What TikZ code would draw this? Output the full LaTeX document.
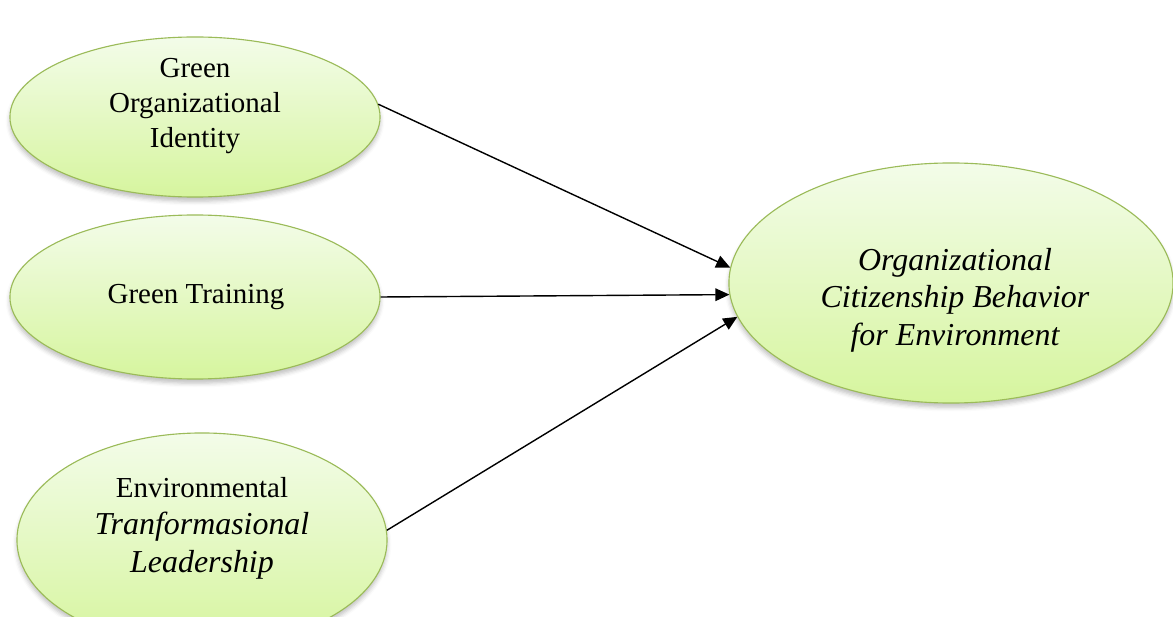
\documentclass[tikz,border=0pt]{standalone}
\usepackage{fontspec}
\setmainfont{Liberation Serif}
\usetikzlibrary{positioning,shapes.geometric,arrows.meta,shadows.blur}

\definecolor{rimgreen}{HTML}{9BBB59}
\definecolor{filltop}{HTML}{F3FCE9}
\definecolor{fillbot}{HTML}{D6F59E}

% italic lines are set a little larger
\newcommand{\itline}[1]{{\fontsize{22.7}{26.7}\selectfont\itshape #1}}

\begin{document}
\begin{tikzpicture}[
    x=0.025cm, y=-0.025cm,
    construct/.style={ellipse, draw=rimgreen, line width=0.8pt, top color=filltop, bottom color=fillbot,
        blur shadow={shadow xshift=0pt, shadow yshift=-3pt, shadow blur radius=3pt, shadow opacity=25}},
    lbl/.style={align=center, inner sep=0pt, font=\fontsize{20.6}{26.7}\selectfont},
    arr/.style={-{Triangle[length=10pt,width=9pt]}, line width=1pt}
]
\useasboundingbox (0,0) rectangle (1173,617);

% the three antecedents on the left
\node[construct, minimum width=9.25cm, minimum height=4cm] (goi) at (195,117) {};
\node[construct, minimum width=9.25cm, minimum height=4.1cm] (gtr) at (195,297) {};
\node[construct, minimum width=9.25cm, minimum height=5.35cm] (etl) at (202,540) {};
% outcome
\node[construct, minimum width=11.1cm, minimum height=6cm] (ocbe) at (951,283) {};

\node[lbl, font=\fontsize{20.6}{25}\selectfont] (goi-txt) at (195,106) {Green\\Organizational\\Identity};
\node[lbl] (gtr-txt) at (196,297) {Green Training};
\node[lbl] (etl-txt) at (202,528) {Environmental\\\itline{Tranformasional}\\\itline{Leadership}};
\node[lbl] (ocbe-txt) at (955,300) {\itline{Organizational}\\\itline{Citizenship Behavior}\\\itline{for Environment}};

\draw[arr] (goi.4) -- (ocbe.176);
\draw[arr] (gtr.east) -- (ocbe.183);
\draw[arr] (etl.3) -- (ocbe.189);
\end{tikzpicture}
\end{document}
